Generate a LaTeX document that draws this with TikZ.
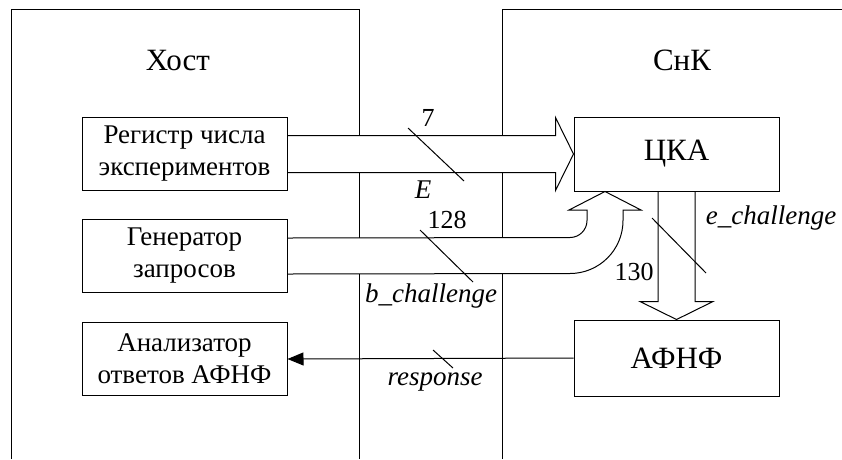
\documentclass[tikz,border=0pt]{standalone}
\usepackage{fontspec}
\setmainfont{Liberation Serif}
\usetikzlibrary{positioning,arrows.meta,backgrounds}

\begin{document}
\begin{tikzpicture}[
    x=1pt, y=-1pt,
    every node/.style={font=\fontsize{26}{31}\selectfont},
    block/.style={draw, line width=1pt, minimum width=205pt, minimum height=73pt, align=center, inner sep=0pt,
        font=\fontsize{27}{32}\selectfont},
    bigblock/.style={block, minimum height=75pt, font=\fontsize{31}{34}\selectfont},
    title/.style={font=\fontsize{31}{34}\selectfont},
    bus/.style={draw, fill=white, line width=1pt},
    tick/.style={line width=1pt},
    sig/.style={font=\itshape\fontsize{27}{30}\selectfont}
]
    \useasboundingbox (0,0) rectangle (842,459);
    % Host
    \node[title] (host) at (178,60) {Хост};
    \node[block] (reg) at (184.5,154) {Регистр числа\\экспериментов};
    \node[block, below=28pt of reg] (gen) {Генератор\\запросов};
    \node[block, below=29pt of gen] (ana) {Анализатор\\ответов АФНФ};
    % SnK
    \node[title] (snk) at (682,60) {СнК};
    \node[bigblock, minimum height=74pt] (cka) at (676.5,154) {ЦКА};
    \node[bigblock, minimum height=76pt, below=128pt of cka] (afnf) {АФНФ};

    \begin{scope}[on background layer]
        % frames
        \draw[line width=1pt] (11,459) |- (359,9) -- (359,459);
        \draw[line width=1pt] (502,459) |- (843,9);
        % buses
        \draw[bus] ([yshift=18.5pt]reg.east) -- ([xshift=-18pt,yshift=18.5pt]cka.west)
            -- ([xshift=-18pt,yshift=36.5pt]cka.west) -- (cka.west)
            -- ([xshift=-18pt,yshift=-36.5pt]cka.west) -- ([xshift=-18pt,yshift=-18.5pt]cka.west)
            -- ([yshift=-18.5pt]reg.east);
        \coordinate (btip) at ([xshift=-71.5pt]cka.south);
        \draw[bus] ([yshift=18pt]gen.east) -- (570,237.5) arc[start angle=90, end angle=0, radius=17]
            -- (587,210) -- (569,210) -- (btip) -- (641,210) -- (623,210) -- (623,220.5)
            arc[start angle=0, end angle=90, radius=53] -- ([yshift=-18pt]gen.east);
        \draw[bus] ([xshift=-18.5pt]cka.south) -- ([xshift=-18.5pt,yshift=18pt]afnf.north)
            -- ([xshift=-36.5pt,yshift=18pt]afnf.north) -- (afnf.north)
            -- ([xshift=36.5pt,yshift=18pt]afnf.north) -- ([xshift=18.5pt,yshift=18pt]afnf.north)
            -- ([xshift=18.5pt]cka.south);
    \end{scope}
    \draw[line width=1pt, -{Triangle[length=16pt, width=13pt]}] (afnf.west) -- (ana.east);

    % widths
    \draw[tick] (408,128) -- (464,181);
    \node (w7) at (428,118) {7};
    \node[sig] (lE) at (423,190) {E};
    \draw[tick] (420,230) -- (473,282);
    \node (w128) at (447,220) {128};
    \node[sig] (lb) at (431,296) {b\_challenge};
    \draw[tick] (652,218) -- (706,273);
    \node (w130) at (634,272) {130};
    \node[sig] (le) at (771,218) {e\_challenge};
    \draw[tick] (433,350) -- (453,368);
    \node[sig] (lr) at (435,382) {response};
\end{tikzpicture}
\end{document}
